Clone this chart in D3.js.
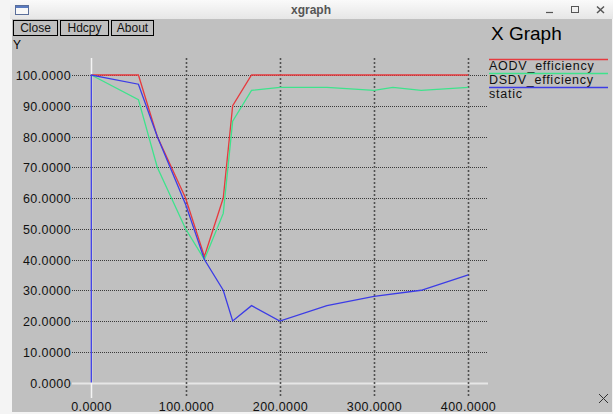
<!DOCTYPE html>
<html><head><meta charset="utf-8">
<script src="https://cdn.jsdelivr.net/npm/d3@7"></script>
<style>html,body{margin:0;padding:0;background:#f2f2f2;}svg{display:block;}</style>
</head><body>
<svg id="c" width="613" height="414"></svg>
<script>
// ---- data ----
const seriesNames = ["AODV_efficiency", "DSDV_efficiency", "static"];
const aodvX = [0, 50, 70, 100, 120, 140, 150, 170, 200, 250, 300, 350, 400];
const aodvY = [100, 100, 80, 60, 41, 60, 90, 100, 100, 100, 100, 100, 100];
const dsdvX = [0, 50, 70, 100, 120, 140, 150, 170, 200, 250, 300, 320, 350, 400];
const dsdvY = [100, 92, 70, 50, 40, 55, 85, 95, 96, 96, 95, 96, 95, 96];
const staticX = [0, 0, 50, 70, 100, 120, 140, 150, 170, 200, 250, 300, 350, 400];
const staticY = [0, 100, 97, 80, 58, 40, 30, 20, 25, 20, 25, 28, 30, 35];
const xTicks = [0, 100, 200, 300, 400];
const yTicks = [0, 10, 20, 30, 40, 50, 60, 70, 80, 90, 100];
const buttons = ["Close", "Hdcpy", "About"];

const colors = ["#e63a3e", "#3ee38c", "#3c3ce6"];
const svg = d3.select("#c");
const font = "'Liberation Sans', Arial, sans-serif";

// window chrome
svg.append("rect").attr("x", 0).attr("y", 0).attr("width", 613).attr("height", 414).attr("fill", "#f4f4f4");
const grad = svg.append("defs").append("linearGradient").attr("id", "tb").attr("x1", 0).attr("y1", 0).attr("x2", 0).attr("y2", 1);
grad.append("stop").attr("offset", 0).attr("stop-color", "#fafafa");
grad.append("stop").attr("offset", 1).attr("stop-color", "#e6e6e6");
svg.append("rect").attr("x", 10).attr("y", 0).attr("width", 603).attr("height", 19).attr("fill", "url(#tb)");
svg.append("rect").attr("x", 15.5).attr("y", 5.5).attr("width", 13).attr("height", 9).attr("fill", "#f8f8f8").attr("stroke", "#5a6e9a");
svg.append("rect").attr("x", 16).attr("y", 6).attr("width", 12).attr("height", 2).attr("fill", "#5a7bc0");
svg.append("text").attr("x", 311).attr("y", 14).attr("text-anchor", "middle").attr("font-family", font)
  .attr("font-weight", "bold").attr("font-size", 12).attr("fill", "#555").text("xgraph");
svg.append("line").attr("x1", 546).attr("x2", 553).attr("y1", 12.5).attr("y2", 12.5).attr("stroke", "#555").attr("stroke-width", 1.2);
svg.append("rect").attr("x", 571.5).attr("y", 6.5).attr("width", 7).attr("height", 6).attr("fill", "none").attr("stroke", "#555");
svg.append("path").attr("d", "M597,6.5 L604,13 M604,6.5 L597,13").attr("stroke", "#555").attr("stroke-width", 1.5);

// grey client area
svg.append("rect").attr("x", 12).attr("y", 19).attr("width", 600).attr("height", 393).attr("fill", "#c0c0c0");

// buttons
let bx = 13;
const bw = [44, 48, 42];
buttons.forEach((b, i) => {
  svg.append("rect").attr("x", bx + 0.5).attr("y", 20.5).attr("width", bw[i]).attr("height", 15)
    .attr("fill", "#c0c0c0").attr("stroke", "#000");
  svg.append("text").attr("x", bx + 0.5 + bw[i] / 2).attr("y", 32).attr("text-anchor", "middle")
    .attr("font-family", font).attr("font-size", 12).attr("fill", "#111").text(b);
  bx += bw[i] + 3;
});

svg.append("text").attr("x", 491).attr("y", 40).attr("font-family", font).attr("font-size", 19).attr("fill", "#000").text("X Graph");
svg.append("text").attr("x", 13).attr("y", 49).attr("font-family", font).attr("font-size", 12).attr("fill", "#000").text("Y");

// scales
const x = d3.scaleLinear().domain([0, 400]).range([91.3, 468.3]);
const y = d3.scaleLinear().domain([0, 100]).range([382.5, 75]);
const gx0 = 72, gx1 = 488, gy0 = 58, gy1 = 398;

// horizontal grid
yTicks.forEach(t => {
  const yy = Math.round(y(t)) + 0.5;
  svg.append("line").attr("x1", gx0).attr("x2", gx1).attr("y1", yy).attr("y2", yy)
    .attr("stroke", t === 0 ? "#e6e6e6" : "#3a3a3a").attr("stroke-width", t === 0 ? 2 : 1)
    .attr("stroke-dasharray", t === 0 ? null : "1,1");
  svg.append("text").attr("x", 71).attr("y", yy + 4.5).attr("text-anchor", "end").attr("font-family", font)
    .attr("font-size", 12.5).attr("letter-spacing", 0.4).attr("fill", "#111").text(d3.format(".4f")(t));
});
// vertical grid
xTicks.forEach(t => {
  const xx = Math.round(x(t)) + 0.5;
  svg.append("line").attr("x1", xx).attr("x2", xx).attr("y1", gy0).attr("y2", gy1)
    .attr("stroke", t === 0 ? "#f4f4f4" : "#505050").attr("stroke-width", t === 0 ? 1.5 : 1.6)
    .attr("stroke-dasharray", t === 0 ? null : "2,2");
  svg.append("text").attr("x", xx).attr("y", 411).attr("text-anchor", "middle").attr("font-family", font)
    .attr("font-size", 12.5).attr("letter-spacing", 0.4).attr("fill", "#111").text(d3.format(".4f")(t));
});

// series
const sets = [
  d3.zip(aodvX, aodvY),
  d3.zip(dsdvX, dsdvY),
  d3.zip(staticX, staticY)
];
const line = d3.line().x(d => x(d[0])).y(d => y(d[1]));
sets.forEach((s, i) => {
  svg.append("path").attr("d", line(s)).attr("fill", "none").attr("stroke", colors[i]).attr("stroke-width", 1.3);
});

// legend
seriesNames.forEach((n, i) => {
  const ly = 59.5 + i * 14;
  svg.append("line").attr("x1", 489).attr("x2", 608).attr("y1", ly).attr("y2", ly).attr("stroke", colors[i]).attr("stroke-width", 1.3);
  svg.append("text").attr("x", 489).attr("y", ly + 10).attr("font-family", font).attr("font-size", 12.5)
    .attr("letter-spacing", 0.75).attr("fill", "#111").text(n);
});

// resize mark
svg.append("path").attr("d", "M599,394 L608,403 M608,394 L599,403").attr("stroke", "#333").attr("stroke-width", 1);
</script>
</body></html>
